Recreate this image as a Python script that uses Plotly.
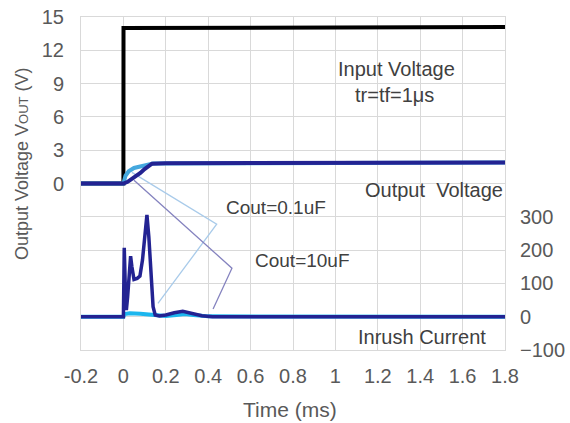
import plotly.graph_objects as go

# ---- data ----
t_in = [-0.2, 0.0, 0.0005, 1.8]
v_in = [0.0, 0.0, 14.0, 14.1]

t_out_01 = [-0.2, 0.0, 0.01, 0.025, 0.05, 0.08, 0.11, 0.14, 1.8]
v_out_01 = [0.0, 0.0, 0.7, 1.1, 1.4, 1.55, 1.7, 1.8, 1.9]

t_out_10 = [-0.2, 0.0, 0.02, 0.05, 0.08, 0.1, 0.12, 0.135, 0.2, 1.8]
v_out_10 = [0.0, 0.0, 0.15, 0.5, 0.95, 1.3, 1.6, 1.78, 1.82, 1.9]

t_cur_01 = [-0.2, 0.0, 0.005, 0.03, 0.08, 0.12, 0.15, 0.2, 0.25, 0.29, 0.33, 0.4, 1.8]
i_cur_01 = [0, 0, 8, 10, 9, 7, 4, 2, 5, 8, 5, 1, 0]

t_cur_10 = [-0.2, 0.0, 0.002, 0.004, 0.006, 0.01, 0.014, 0.02, 0.028, 0.034, 0.04, 0.05,
            0.065, 0.078, 0.09, 0.1, 0.111, 0.12, 0.13, 0.14, 0.15, 0.17, 0.2, 0.24,
            0.28, 0.32, 0.37, 0.42, 1.8]
i_cur_10 = [0, 0, 100, 207, 160, 60, 20, 60, 150, 182, 150, 112,
            115, 122, 170, 250, 306, 240, 110, 30, 5, 2, 5, 12,
            16, 10, 3, 0, 0]

x_ticks = [-0.2, 0, 0.2, 0.4, 0.6, 0.8, 1.0, 1.2, 1.4, 1.6, 1.8]
x_tick_text = ["-0.2", "0", "0.2", "0.4", "0.6", "0.8", "1", "1.2", "1.4", "1.6", "1.8"]
y_ticks = [-15, -12, -9, -6, -3, 0, 3, 6, 9, 12, 15]
y_tick_text = ["", "", "", "", "", "0", "3", "6", "9", "12", "15"]
y2_ticks = [-100, 0, 100, 200, 300]

# callout leader lines (time, voltage-axis)
lead_01_t = [0.04, 0.44, 0.163]
lead_01_v = [1.0, -3.67, -10.8]
lead_10_t = [0.05, 0.512, 0.423]
lead_10_v = [0.3, -7.63, -11.3]

DARK = "#232392"
LIGHT_V = "#45A8DE"
LIGHT_I = "#1CB6EE"
FONT = "Liberation Sans, Arial, sans-serif"
TXT = "#404040"
TICK = "#595959"
GRID = "#D9D9D9"

fig = go.Figure()

fig.add_trace(go.Scatter(x=lead_01_t, y=lead_01_v, mode="lines",
                         line=dict(color="#A9CBEA", width=1.3), hoverinfo="skip", showlegend=False))
fig.add_trace(go.Scatter(x=lead_10_t, y=lead_10_v, mode="lines",
                         line=dict(color="#8583BF", width=1.3), hoverinfo="skip", showlegend=False))

fig.add_trace(go.Scatter(x=t_cur_01, y=i_cur_01, yaxis="y2", mode="lines",
                         line=dict(color=LIGHT_I, width=4), showlegend=False))
fig.add_trace(go.Scatter(x=t_cur_10, y=i_cur_10, yaxis="y2", mode="lines",
                         line=dict(color=DARK, width=3.5), showlegend=False))

fig.add_trace(go.Scatter(x=t_in, y=v_in, mode="lines",
                         line=dict(color="black", width=4), showlegend=False))
fig.add_trace(go.Scatter(x=t_out_01, y=v_out_01, mode="lines",
                         line=dict(color=LIGHT_V, width=4), showlegend=False))
fig.add_trace(go.Scatter(x=t_out_10, y=v_out_10, mode="lines",
                         line=dict(color=DARK, width=4), showlegend=False))

ann_font = dict(family=FONT, size=20, color=TXT)
cout_font = dict(family=FONT, size=19, color=TXT)
annotations = [
    dict(x=1.29, y=10.3, text="Input Voltage", font=ann_font),
    dict(x=1.28, y=8.0, text="tr=tf=1μs", font=ann_font),
    dict(x=1.465, y=-0.6, text="Output  Voltage", font=ann_font),
    dict(x=0.72, y=-2.15, text="Cout=0.1uF", font=cout_font),
    dict(x=0.847, y=-6.9, text="Cout=10uF", font=cout_font),
    dict(x=1.41, y=-13.8, text="Inrush Current", font=ann_font),
]
for a in annotations:
    a.update(xref="x", yref="y", showarrow=False)

# axis titles as paper annotations
annotations.append(dict(xref="paper", yref="paper", x=-0.139, y=0.5586, textangle=-90,
                        showarrow=False, xanchor="center", yanchor="middle",
                        text='Output Voltage V<span style="font-size:13px">OUT</span> (V)',
                        font=dict(family=FONT, size=18, color=TICK)))
annotations.append(dict(xref="paper", yref="paper", x=0.493, y=-0.18,
                        showarrow=False, xanchor="center", yanchor="middle",
                        text="Time (ms)", font=dict(family=FONT, size=21, color=TICK)))

fig.update_layout(
    width=570, height=423,
    margin=dict(l=81, r=65, t=17, b=73),
    paper_bgcolor="white", plot_bgcolor="white",
    font=dict(family=FONT, size=20, color=TICK),
    annotations=annotations,
    xaxis=dict(range=[-0.2, 1.8], tickvals=x_ticks, ticktext=x_tick_text,
               showgrid=True, gridcolor=GRID, gridwidth=1, zeroline=False,
               showline=True, linecolor=GRID, mirror=True, automargin=False,
               ticks="", ticklabelstandoff=8, ticklabeloverflow="allow",
               tickfont=dict(family=FONT, size=20, color=TICK)),
    yaxis=dict(range=[-15, 15], tickvals=y_ticks, ticktext=y_tick_text,
               showgrid=True, gridcolor=GRID, gridwidth=1, zeroline=False,
               showline=True, linecolor=GRID, mirror=True, automargin=False,
               ticks="", ticklabelstandoff=12, ticklabeloverflow="allow",
               tickfont=dict(family=FONT, size=20, color=TICK)),
    yaxis2=dict(range=[-100, 900], tickvals=y2_ticks, overlaying="y", side="right",
                showgrid=False, zeroline=False, ticks="", ticklabelstandoff=14,
                automargin=False, ticklabeloverflow="allow",
                tickfont=dict(family=FONT, size=20, color=TICK)),
)

fig.write_html(
    "out.html",
    config={"displayModeBar": False},
    post_script="document.body.style.margin='0';document.body.style.overflow='hidden';",
)
